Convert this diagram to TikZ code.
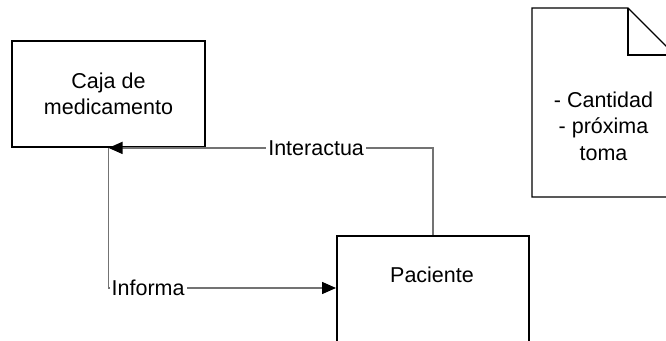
\documentclass[tikz,border=0pt]{standalone}
\usepackage{fontspec}
\setmainfont{Liberation Sans}
\usetikzlibrary{arrows.meta,calc}
\begin{document}
\begin{tikzpicture}[x=1pt,y=-1pt,
  font=\fontsize{21.5}{26.5}\selectfont,
  box/.style={draw=black,line width=1.8pt,rectangle,inner sep=0pt},
  conn/.style={draw=black!55,line width=1.5pt,-{Triangle[length=14pt,width=12pt,color=black]}},
  tag/.style={fill=white,inner sep=2pt},
  paper/.style={draw=black,line width=1.4pt}]
\useasboundingbox (0,0) rectangle (666,340);

% entity boxes
\node[box,minimum width=193pt,minimum height=106pt,align=center] (caja) at (108.5,94) {Caja de\\medicamento};
\node[box,minimum width=192pt,minimum height=130pt,anchor=north west] (pac) at (336,235) {};
\node (pactext) at (432,275) {Paciente};

% note sheet with folded corner
\coordinate (fold) at (628,8);
\draw[paper] (532,8) -- (fold) -- (675,55) -- (675,197) -- (532,197) -- cycle;
\draw[paper] (fold) -- (628,55) -- (675,55);
\node[align=center] (note) at (603.5,126) {- Cantidad\\- próxima\\toma};

% connectors
\draw[conn] (pac.north) |- node[tag,pos=0.68] (inter) {Interactua} (caja.south);
\coordinate (inform) at ($(pac.north west)+(0,53)$);
\draw[conn] (caja.south) |- node[tag,pos=0.587] (info) {Informa} (inform);
\end{tikzpicture}
\end{document}
